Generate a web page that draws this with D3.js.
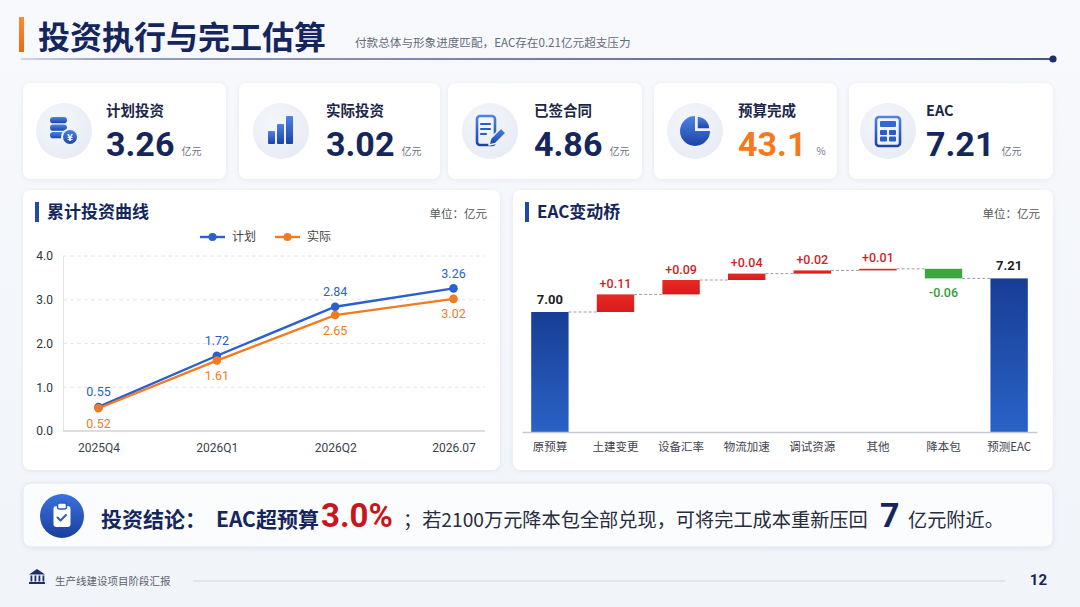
<!DOCTYPE html>
<html><head><meta charset="utf-8">
<script src="https://cdn.jsdelivr.net/npm/d3@7"></script>
<style>
html,body{margin:0;padding:0;background:#f4f6fa;}
svg{display:block;font-family:'Noto Sans CJK SC','Noto Sans',sans-serif;}
</style></head><body>
<svg id="c" width="1080" height="607"></svg>
<script>
// ---------------- DATA ----------------
const pageTitle = '投资执行与完工估算';
const pageSubtitle = '付款总体与形象进度匹配，EAC存在0.21亿元超支压力';
const kpiLabels = ['计划投资', '实际投资', '已签合同', '预算完成', 'EAC'];
const kpiValues = ['3.26', '3.02', '4.86', '43.1', '7.21'];
const kpiUnits = ['亿元', '亿元', '亿元', '%', '亿元'];

const lineTitle = '累计投资曲线';
const unitText = '单位：亿元';
const seriesNames = ['计划', '实际'];
const periods = ['2025Q4', '2026Q1', '2026Q2', '2026.07'];
const planValues = [0.55, 1.72, 2.84, 3.26];
const actualValues = [0.52, 1.61, 2.65, 3.02];
const yTicks = [0, 1, 2, 3, 4];

const bridgeTitle = 'EAC变动桥';
const bridgeCats = ['原预算', '土建变更', '设备汇率', '物流加速', '调试资源', '其他', '降本包', '预测EAC'];
const bridgeValues = [7.00, 0.11, 0.09, 0.04, 0.02, 0.01, -0.06, 7.21];
const bridgeTypes = ['total', 'delta', 'delta', 'delta', 'delta', 'delta', 'delta', 'total'];

const conclusionParts = ['投资结论：', 'EAC超预算', '3.0%', '；若2100万元降本包全部兑现，可将完工成本重新压回', '7', '亿元附近。'];
const footerText = '生产线建设项目阶段汇报';
const pageNo = '12';

// ---------------- SETUP ----------------
const NAVY = '#15265c', BLUE = '#2b5fcf', ORANGE = '#f47a1f', GREEN = '#3ea640';
const svg = d3.select('#c');
const defs = svg.append('defs');
function lin(id, stops, vertical = true) {
  const g = defs.append('linearGradient').attr('id', id)
    .attr('x1', 0).attr('y1', 0).attr('x2', vertical ? 0 : 1).attr('y2', vertical ? 1 : 0);
  stops.forEach(s => g.append('stop').attr('offset', s[0]).attr('stop-color', s[1]));
}
lin('bg', [[0, '#f7f9fc'], [1, '#f1f4f9']]);
lin('ib', [[0, '#4d83e6'], [1, '#1b43a6']]);
lin('blueBar', [[0, '#173e95'], [1, '#2a62c6']]);
lin('redBar', [[0, '#e82a25'], [1, '#d81a1a']]);
lin('hline', [[0, '#d3d8e8'], [0.08, '#98a0c0'], [1, '#4a5688']], false);
lin('orangeBar', [[0, '#ff8c33'], [1, '#f06812']]);
lin('badge', [[0, '#3a72de'], [1, '#1a3f9c']]);
const rg = defs.append('radialGradient').attr('id', 'icbg').attr('cx', '40%').attr('cy', '35%').attr('r', '70%');
rg.append('stop').attr('offset', 0).attr('stop-color', '#f5f7fb');
rg.append('stop').attr('offset', 1).attr('stop-color', '#e7ebf4');
const f = defs.append('filter').attr('id', 'sh').attr('x', '-10%').attr('y', '-20%').attr('width', '120%').attr('height', '140%');
f.append('feDropShadow').attr('dx', 0).attr('dy', 1).attr('stdDeviation', 2.5)
  .attr('flood-color', '#1a2a5a').attr('flood-opacity', 0.07);

svg.append('rect').attr('width', 1080).attr('height', 607).attr('fill', 'url(#bg)');

// ---------------- HEADER ----------------
svg.append('rect').attr('x', 19).attr('y', 17).attr('width', 5).attr('height', 35).attr('fill', 'url(#orangeBar)');
svg.append('text').attr('x', 38).attr('y', 48.5).attr('font-size', 32).attr('font-weight', 700)
  .attr('fill', NAVY).text(pageTitle);
svg.append('text').attr('x', 355).attr('y', 47).attr('font-size', 11.6).attr('fill', '#666b78').text(pageSubtitle);
svg.append('rect').attr('x', 21).attr('y', 58).attr('width', 1030).attr('height', 2).attr('fill', 'url(#hline)');
svg.append('circle').attr('cx', 1053).attr('cy', 59).attr('r', 3.6).attr('fill', '#1e2e68');

// ---------------- KPI CARDS ----------------
const cardL = [23, 239, 448, 654, 849], cardRgt = [226, 440, 642, 837, 1053];
const iconCx = [64, 281, 490, 695, 888];
const textX = [106, 326, 534, 738, 926];
const cardY = 83, cardH = 96, iconCy = 131;

function iconCoins(g) {
  [-14, -6.5, 1].forEach(y => g.append('rect').attr('x', -14).attr('y', y).attr('width', 17).attr('height', 6.3)
    .attr('rx', 3.1).attr('fill', 'url(#ib)'));
  g.append('circle').attr('cx', 6).attr('cy', 6).attr('r', 8).attr('fill', 'url(#ib)')
    .attr('stroke', '#eef1f8').attr('stroke-width', 2);
  g.append('text').attr('x', 6).attr('y', 6).attr('dy', '0.36em').attr('text-anchor', 'middle')
    .attr('font-size', 10).attr('font-weight', 700).attr('fill', '#fff').text('¥');
}
function iconBars(g) {
  [[-13, 13], [-4, 20], [5, 28]].forEach(b => g.append('rect').attr('x', b[0]).attr('y', 13 - b[1])
    .attr('width', 7).attr('height', b[1]).attr('rx', 1).attr('fill', 'url(#ib)'));
}
function iconDoc(g) {
  g.append('rect').attr('x', -13).attr('y', -15).attr('width', 18).attr('height', 29).attr('rx', 3)
    .attr('fill', 'none').attr('stroke', 'url(#ib)').attr('stroke-width', 2.6);
  [[-7, 9], [-2, 9], [3, 5]].forEach(l => g.append('line').attr('x1', -9).attr('x2', -9 + l[1]).attr('y1', l[0]).attr('y2', l[0])
    .attr('stroke', '#2c5ccc').attr('stroke-width', 2.2).attr('stroke-linecap', 'round'));
  g.append('path').attr('d', 'M-1,14 L0.5,7.5 L11,-3 L16,2 L5.5,12.5 Z')
    .attr('fill', 'url(#ib)').attr('stroke', '#eef1f8').attr('stroke-width', 1.6).attr('stroke-linejoin', 'round');
}
function iconPie(g) {
  const a = d3.arc().innerRadius(0).outerRadius(15);
  g.append('path').attr('d', a({ startAngle: Math.PI / 2, endAngle: Math.PI * 2 })).attr('fill', 'url(#ib)');
  g.append('path').attr('transform', 'translate(2,-2)').attr('d', d3.arc().innerRadius(0).outerRadius(13)({ startAngle: 0, endAngle: Math.PI / 2 }))
    .attr('fill', 'url(#ib)').attr('stroke', '#eef1f8').attr('stroke-width', 1.5);
}
function iconCalc(g) {
  g.append('rect').attr('x', -12).attr('y', -14).attr('width', 24).attr('height', 29).attr('rx', 3)
    .attr('fill', 'none').attr('stroke', 'url(#ib)').attr('stroke-width', 2.6);
  g.append('rect').attr('x', -8).attr('y', -10).attr('width', 16).attr('height', 6).attr('rx', 1).attr('fill', '#3467d3');
  [[-8, -1], [1, -1], [-8, 5.5], [1, 5.5]].forEach(k => g.append('rect').attr('x', k[0]).attr('y', k[1])
    .attr('width', 7).attr('height', 5).attr('rx', 1).attr('fill', '#2b5bc8'));
}
const iconFns = [iconCoins, iconBars, iconDoc, iconPie, iconCalc];

kpiLabels.forEach((lab, i) => {
  const g = svg.append('g');
  g.append('rect').attr('x', cardL[i]).attr('y', cardY).attr('width', cardRgt[i] - cardL[i]).attr('height', cardH)
    .attr('rx', 8).attr('fill', '#fff').attr('filter', 'url(#sh)');
  g.append('circle').attr('cx', iconCx[i]).attr('cy', iconCy).attr('r', 28).attr('fill', 'url(#icbg)');
  iconFns[i](g.append('g').attr('transform', `translate(${iconCx[i]},${iconCy})`));
  g.append('text').attr('x', textX[i]).attr('y', 116).attr('font-size', 14.5).attr('font-weight', 700)
    .attr('fill', '#1c2748').text(lab);
  const v = g.append('text').attr('x', textX[i]).attr('y', 156).attr('font-family', 'Roboto, sans-serif')
    .attr('font-size', 34).attr('font-weight', 700).attr('fill', i === 3 ? ORANGE : NAVY).text(kpiValues[i]);
  const w = v.node().getComputedTextLength();
  g.append('text').attr('x', textX[i] + w + (i === 3 ? 10 : 7)).attr('y', 155).attr('font-size', 10)
    .attr('fill', '#70757f').text(kpiUnits[i]);
});

// ---------------- PANELS ----------------
function panel(x, y, w, h, title) {
  svg.append('rect').attr('x', x).attr('y', y).attr('width', w).attr('height', h).attr('rx', 8)
    .attr('fill', '#fff').attr('filter', 'url(#sh)');
  svg.append('rect').attr('x', x + 12).attr('y', y + 12).attr('width', 4).attr('height', 20).attr('fill', '#1f4aa8');
  svg.append('text').attr('x', x + 24).attr('y', y + 22).attr('dy', '0.36em').attr('font-size', 17)
    .attr('font-weight', 700).attr('fill', NAVY).text(title);
  svg.append('text').attr('x', x + w - 13).attr('y', y + 24).attr('dy', '0.36em').attr('text-anchor', 'end')
    .attr('font-size', 11.5).attr('fill', '#555').text(unitText);
}
panel(23, 190, 477, 280, lineTitle);
panel(513, 190, 540, 280, bridgeTitle);

// ---------------- LINE CHART ----------------
const xL = d3.scalePoint().domain(periods).range([63, 489]).padding(0.3);
const yL = d3.scaleLinear().domain([0, 4]).range([431, 256]);
const lc = svg.append('g');
lc.append('g').selectAll('line').data(yTicks.filter(t => t > 0)).join('line')
  .attr('x1', 63).attr('x2', 485).attr('y1', d => yL(d)).attr('y2', d => yL(d))
  .attr('stroke', '#e4e6ea').attr('stroke-dasharray', '4,3');
const ya = lc.append('g').attr('transform', 'translate(63,0)')
  .call(d3.axisLeft(yL).tickValues(yTicks).tickFormat(d3.format('.1f')).tickSize(0).tickPadding(10));
ya.select('.domain').attr('stroke', '#e2e4e8');
ya.selectAll('text').attr('font-size', 12).attr('fill', '#333').attr('font-family', 'Roboto, sans-serif');
const xa = lc.append('g').attr('transform', 'translate(0,431)')
  .call(d3.axisBottom(xL).tickSize(0).tickPadding(12));
xa.select('.domain').attr('d', 'M63,0H485').attr('stroke', '#cfd2d8').attr('stroke-width', 1.5);
xa.selectAll('text').attr('font-size', 12).attr('fill', '#3a3f4a').attr('font-family', 'Roboto, sans-serif');

const lineGen = d3.line().x((d, i) => xL(periods[i])).y(d => yL(d));
[[planValues, BLUE, -15], [actualValues, ORANGE, 15]].forEach(([vals, col, off]) => {
  lc.append('path').attr('d', lineGen(vals)).attr('fill', 'none').attr('stroke', col).attr('stroke-width', 2.4);
  lc.append('g').selectAll('circle').data(vals).join('circle')
    .attr('cx', (d, i) => xL(periods[i])).attr('cy', d => yL(d)).attr('r', 4.3).attr('fill', col);
  lc.append('g').selectAll('text').data(vals).join('text')
    .attr('x', (d, i) => xL(periods[i])).attr('y', d => yL(d) + off).attr('dy', '0.36em')
    .attr('text-anchor', 'middle').attr('font-family', 'Roboto, sans-serif').attr('font-size', 12.5)
    .attr('fill', col).text(d => d.toFixed(2));
});
// legend
const legX = [200, 275];
seriesNames.forEach((n, i) => {
  const col = i === 0 ? BLUE : ORANGE;
  const g = svg.append('g');
  g.append('line').attr('x1', legX[i]).attr('x2', legX[i] + 25).attr('y1', 237).attr('y2', 237)
    .attr('stroke', col).attr('stroke-width', 2.4);
  g.append('circle').attr('cx', legX[i] + 12.5).attr('cy', 237).attr('r', 4).attr('fill', col);
  g.append('text').attr('x', legX[i] + 32).attr('y', 237).attr('dy', '0.36em').attr('font-size', 12)
    .attr('fill', '#444').text(n);
});

// ---------------- WATERFALL ----------------
const xB = d3.scaleBand().domain(bridgeCats).range([522, 1037]).paddingInner(0.43).paddingOuter(0.14);
const yB = d3.scaleLinear().domain([6.25, 7.4]).range([432, 248]);
let cum = 0;
const bars = bridgeCats.map((c, i) => {
  const v = bridgeValues[i];
  let y0, y1;
  if (bridgeTypes[i] === 'total') { y0 = yB.domain()[0]; y1 = v; cum = v; }
  else { y0 = cum; y1 = cum + v; cum = y1; }
  return { c, v, y0, y1, end: cum, type: bridgeTypes[i] };
});
const wf = svg.append('g');
const bw = xB.bandwidth();
bars.slice(0, -1).forEach((b, i) => {
  wf.append('line').attr('x1', xB(b.c) + bw).attr('x2', xB(bars[i + 1].c))
    .attr('y1', yB(b.end)).attr('y2', yB(b.end))
    .attr('stroke', '#9a9ea6').attr('stroke-width', 1).attr('stroke-dasharray', '3,2');
});
wf.selectAll('rect.bar').data(bars).join('rect').attr('class', 'bar')
  .attr('x', d => xB(d.c)).attr('width', bw)
  .attr('y', d => yB(Math.max(d.y0, d.y1))).attr('height', d => Math.abs(yB(d.y0) - yB(d.y1)))
  .attr('fill', d => d.type === 'total' ? 'url(#blueBar)' : (d.v >= 0 ? 'url(#redBar)' : GREEN));
wf.selectAll('text.lbl').data(bars).join('text').attr('class', 'lbl')
  .attr('x', d => xB(d.c) + bw / 2)
  .attr('y', d => d.type === 'total' ? yB(d.y1) - 13 : (d.v >= 0 ? yB(d.y1) - 11 : yB(d.y1) + 14))
  .attr('dy', '0.36em').attr('text-anchor', 'middle').attr('font-family', 'Roboto, sans-serif')
  .attr('font-size', d => d.type === 'total' ? 13 : 12.5)
  .attr('font-weight', d => d.type === 'total' ? 700 : 500)
  .attr('fill', d => d.type === 'total' ? '#1e1e24' : (d.v >= 0 ? '#d11f1f' : '#3a9a3c'))
  .text(d => d.type === 'total' ? d.v.toFixed(2) : (d.v > 0 ? '+' : '') + d.v.toFixed(2));
const xba = wf.append('g').attr('transform', 'translate(0,432)')
  .call(d3.axisBottom(xB).tickSize(0).tickPadding(11).tickSizeOuter(0));
xba.select('.domain').attr('stroke', '#c6c9cf').attr('stroke-width', 1.5);
xba.selectAll('text').attr('font-size', 11.5).attr('fill', '#3f434c')
  .attr('font-family', "'Noto Sans CJK SC', sans-serif");

// ---------------- CONCLUSION BANNER ----------------
svg.append('rect').attr('x', 23).attr('y', 483).attr('width', 1030).attr('height', 64).attr('rx', 8)
  .attr('fill', '#fbfcfe').attr('stroke', '#e3e7ef').attr('filter', 'url(#sh)');
svg.append('circle').attr('cx', 62).attr('cy', 516).attr('r', 22).attr('fill', 'url(#badge)');
svg.append('rect').attr('x', 53.5).attr('y', 506).attr('width', 17).attr('height', 21).attr('rx', 3).attr('fill', '#fff');
svg.append('rect').attr('x', 57.5).attr('y', 503).attr('width', 9).attr('height', 6).attr('rx', 2)
  .attr('fill', '#fff').attr('stroke', '#2a5bc8').attr('stroke-width', 1.5);
svg.append('path').attr('d', 'M57.5,517.5 l3,3 l5.5,-5.5').attr('fill', 'none').attr('stroke', '#2a5bc8')
  .attr('stroke-width', 2).attr('stroke-linecap', 'round').attr('stroke-linejoin', 'round');
const partX = [101, 216, 321, 403, 880, 908];
const partStyle = [
  { s: 21, w: 700, c: NAVY, f: null }, { s: 21, w: 700, c: NAVY, f: null },
  { s: 33, w: 700, c: '#c9161d', f: 'Roboto, sans-serif' }, { s: 19.2, w: 400, c: '#272c3c', f: null },
  { s: 34, w: 700, c: NAVY, f: 'Roboto, sans-serif' }, { s: 19.2, w: 400, c: '#272c3c', f: null }];
conclusionParts.forEach((p, i) => {
  const t = svg.append('text').attr('x', partX[i]).attr('y', 527).attr('font-size', partStyle[i].s)
    .attr('font-weight', partStyle[i].w).attr('fill', partStyle[i].c).text(p);
  if (partStyle[i].f) t.attr('font-family', partStyle[i].f);
});

// ---------------- FOOTER ----------------
const fi = svg.append('g').attr('fill', '#1e2e68');
fi.append('path').attr('d', 'M29,574.5 L37,569 L45,574.5 Z');
[30.5, 34.5, 38.5, 42.5].forEach(x => fi.append('rect').attr('x', x).attr('y', 575.5).attr('width', 1.8).attr('height', 6));
fi.append('rect').attr('x', 29).attr('y', 582).attr('width', 16).attr('height', 2);
svg.append('text').attr('x', 55).attr('y', 581).attr('dy', '0.36em').attr('font-size', 10.5)
  .attr('fill', '#5a5f6b').text(footerText);
svg.append('line').attr('x1', 193).attr('x2', 1005).attr('y1', 581).attr('y2', 581)
  .attr('stroke', '#d3d7df').attr('stroke-width', 1.2);
svg.append('text').attr('x', 1047).attr('y', 580).attr('dy', '0.36em').attr('text-anchor', 'end')
  .attr('font-family', 'Roboto, sans-serif').attr('font-size', 15).attr('font-weight', 700)
  .attr('fill', NAVY).text(pageNo);
</script>
</body></html>
